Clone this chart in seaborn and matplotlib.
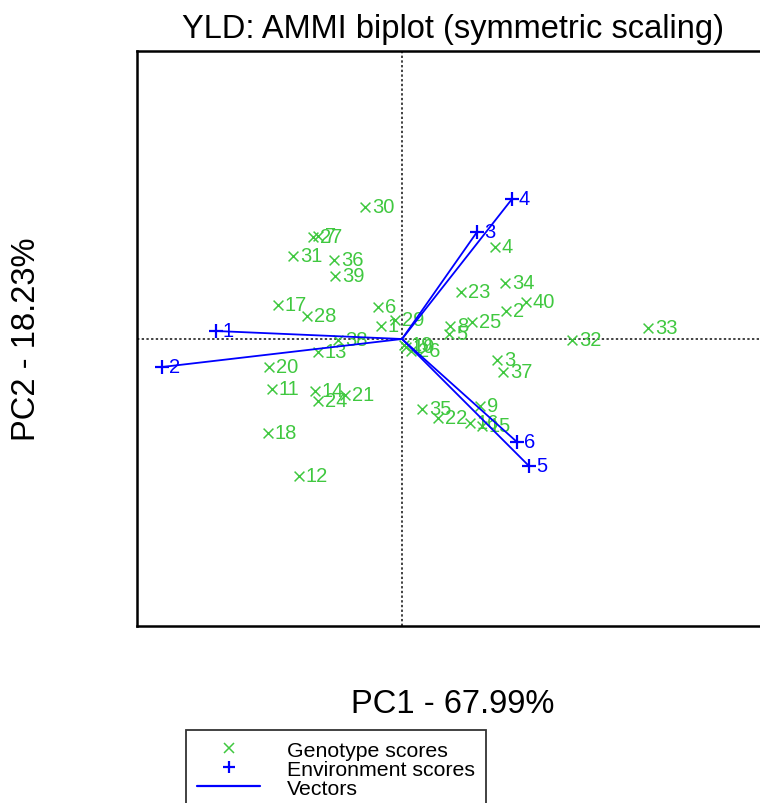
import matplotlib
matplotlib.use("Agg")
import matplotlib.pyplot as plt
import seaborn as sns
import pandas as pd
from matplotlib.lines import Line2D

sns.set_style("white")
plt.rcParams["font.family"] = ["Liberation Sans", "DejaVu Sans"]
plt.rcParams["text.color"] = "black"
plt.rcParams["axes.labelcolor"] = "black"

# ---- data ----
geno_ids = ["1", "2", "3", "4", "5", "6", "7", "8", "9", "10",
            "11", "12", "13", "14", "15", "16", "17", "18", "19", "20",
            "21", "22", "23", "24", "25", "26", "27", "28", "29", "30",
            "31", "32", "33", "34", "35", "36", "37", "38", "39", "40"]
geno_pc1 = [-0.21, 1.04, 0.95, 0.93, 0.47, -0.24, -0.84, 0.48, 0.78, 0.04,
            -1.30, -1.03, -0.84, -0.87, 0.80, 0.68, -1.24, -1.34, 0.02, -1.33,
            -0.57, 0.36, 0.59, -0.84, 0.70, 0.09, -0.89, -0.95, -0.07, -0.37,
            -1.09, 1.70, 2.46, 1.03, 0.20, -0.68, 1.01, -0.64, -0.67, 1.24]
geno_pc2 = [0.13, 0.28, -0.21, 0.92, 0.05, 0.32, 1.03, 0.13, -0.67, -0.08,
            -0.50, -1.37, -0.13, -0.52, -0.87, -0.84, 0.34, -0.94, -0.06, -0.28,
            -0.56, -0.79, 0.47, -0.62, 0.17, -0.12, 1.02, 0.23, 0.19, 1.32,
            0.83, -0.01, 0.11, 0.56, -0.70, 0.79, -0.33, -0.01, 0.63, 0.37]

env_ids = ["1", "2", "3", "4", "5", "6"]
env_pc1 = [-1.86, -2.40, 0.75, 1.10, 1.27, 1.15]
env_pc2 = [0.08, -0.28, 1.07, 1.40, -1.27, -1.03]

title = "YLD: AMMI biplot (symmetric scaling)"
xlab = "PC1 - 67.99%"
ylab = "PC2 - 18.23%"
legend_labels = ["Genotype scores", "Environment scores", "Vectors"]

GREEN = "#40C840"
BLUE = "#0000FF"

gdf = pd.DataFrame({"id": geno_ids, "PC1": geno_pc1, "PC2": geno_pc2})
edf = pd.DataFrame({"id": env_ids, "PC1": env_pc1, "PC2": env_pc2})

fig = plt.figure(figsize=(7.6, 8.04), dpi=100)
ax = fig.add_axes([137 / 760, 1 - 627 / 804, 631 / 760, 575 / 804])
ax.set_xlim(-2.65, 3.66)
ax.set_ylim(-2.87, 2.88)

ax.axhline(0, color="#333333", lw=1.3, ls=(0, (1.3, 1.3)), zorder=1)
ax.axvline(0, color="#333333", lw=1.3, ls=(0, (1.3, 1.3)), zorder=1)

sns.scatterplot(data=gdf, x="PC1", y="PC2", marker="x", color=GREEN, s=50,
                linewidth=1.1, ax=ax, zorder=3, legend=False)
for _, r in gdf.iterrows():
    ax.annotate(r["id"], (r["PC1"], r["PC2"]), xytext=(5, 0),
                textcoords="offset points", va="center", ha="left",
                color=GREEN, fontsize=14.5, zorder=3)

for _, r in edf.iterrows():
    ax.plot([0, r["PC1"]], [0, r["PC2"]], color=BLUE, lw=1.3, zorder=4)
sns.scatterplot(data=edf, x="PC1", y="PC2", marker="+", color=BLUE, s=90,
                linewidth=1.6, ax=ax, zorder=5, legend=False)
for _, r in edf.iterrows():
    ax.annotate(r["id"], (r["PC1"], r["PC2"]), xytext=(5, 0),
                textcoords="offset points", va="center", ha="left",
                color=BLUE, fontsize=14.5, zorder=5)

ax.set_xticks([])
ax.set_yticks([])
for s in ax.spines.values():
    s.set_visible(True)
    s.set_color("black")
    s.set_linewidth(1.8)

ax.set_title(title, fontsize=23.5, pad=10, color="black")
ax.set_xlabel(xlab, fontsize=23.5)
ax.xaxis.set_label_coords(0.5, -0.108)
ax.set_ylabel(ylab, fontsize=23.5)
ax.yaxis.set_label_coords(-0.15, 0.5)

handles = [
    Line2D([], [], marker="x", ls="none", color=GREEN, markersize=7, mew=1.1),
    Line2D([], [], marker="+", ls="none", color=BLUE, markersize=9, mew=1.6),
    Line2D([], [], color=BLUE, lw=1.6),
]
leg = fig.legend(handles, legend_labels, loc="upper left",
                 bbox_to_anchor=(186 / 760, 1 - 731 / 804), fontsize=15.3,
                 frameon=True, fancybox=False, edgecolor="black",
                 handlelength=3.0, handletextpad=1.25, borderpad=0.5,
                 labelspacing=0.0, borderaxespad=0)
leg.get_frame().set_linewidth(1.3)

fig.savefig("out.png", dpi=100)
